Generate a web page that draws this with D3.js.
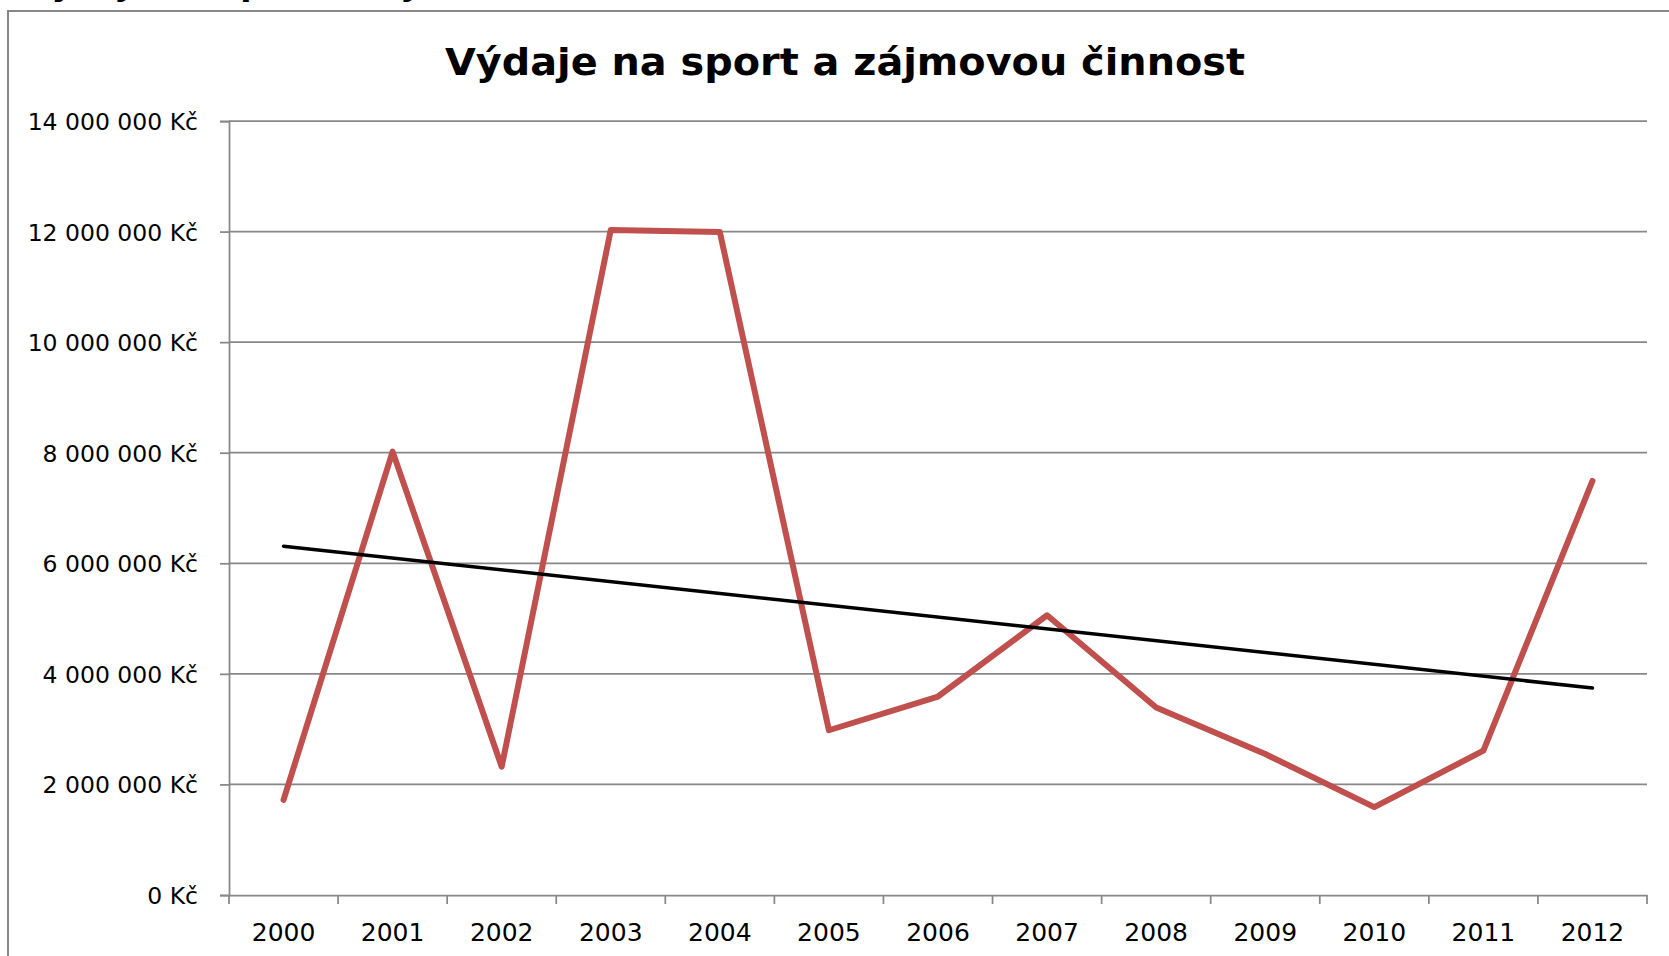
<!DOCTYPE html>
<html>
<head>
<meta charset="utf-8">
<script src="https://cdn.jsdelivr.net/npm/d3@7"></script>
<style>
  html, body { margin: 0; padding: 0; background: #fff; overflow: hidden; }
  svg { display: block; }
</style>
</head>
<body>
<svg id="chart" width="1669" height="956"></svg>
<script>
// ---- data ----
const titleText = "Výdaje na sport a zájmovou činnost";
const years = ["2000","2001","2002","2003","2004","2005","2006","2007","2008","2009","2010","2011","2012"];
const expenses = [1720000, 8020000, 2320000, 12030000, 11990000, 2980000, 3590000, 5060000, 3390000, 2550000, 1590000, 2610000, 7490000];
const yTickValues = [0, 2000000, 4000000, 6000000, 8000000, 10000000, 12000000, 14000000];
const yTickLabels = ["0 Kč","2 000 000 Kč","4 000 000 Kč","6 000 000 Kč","8 000 000 Kč","10 000 000 Kč","12 000 000 Kč","14 000 000 Kč"];

// ---- layout ----
const W = 1669, H = 956;
const plot = { left: 229, right: 1647, top: 121, bottom: 895 };
const FONT = "'DejaVu Sans', 'Noto Sans', sans-serif";
const GRID = "#878787";
const RED = "#C0504D";

const svg = d3.select("#chart");

// clipped heading from page above (only descenders visible)
svg.append("text")
  .attr("x", 26).attr("y", -4)
  .attr("textLength", 661).attr("lengthAdjust", "spacingAndGlyphs")
  .style("font-family", FONT).style("font-weight", "bold").style("font-size", "30px")
  .attr("fill", "#000")
  .text(titleText);

// chart outer border (top and left visible)
svg.append("path")
  .attr("d", `M8,${H} L8,11 L${W},11`)
  .attr("fill", "none").attr("stroke", GRID).attr("stroke-width", 2);

// scales
const x = d3.scaleBand().domain(years).range([plot.left, plot.right]).paddingInner(0).paddingOuter(0);
const y = d3.scaleLinear().domain([0, 14000000]).range([plot.bottom, plot.top]);
const cx = d => x(d) + x.bandwidth() / 2;

// gridlines
svg.append("g").selectAll("line")
  .data(yTickValues.filter(v => v > 0))
  .join("line")
  .attr("x1", plot.left).attr("x2", plot.right)
  .attr("y1", d => y(d)).attr("y2", d => y(d))
  .attr("stroke", GRID).attr("stroke-width", 1.75);

// y axis
const yAxis = d3.axisLeft(y)
  .tickValues(yTickValues)
  .tickSize(9)
  .tickPadding(22)
  .tickFormat((d, i) => yTickLabels[i]);
const gy = svg.append("g").attr("transform", `translate(${plot.left},0)`).call(yAxis);
gy.select(".domain").attr("stroke", GRID).attr("stroke-width", 1.75);
gy.selectAll(".tick line").attr("stroke", GRID).attr("stroke-width", 1.75);
gy.selectAll(".tick text")
  .style("font-family", FONT).style("font-size", "23.5px").attr("fill", "#000")
  .attr("dy", "0.36em");

// x axis (labels at category centers)
const xAxis = d3.axisBottom(x).tickSize(0).tickPadding(0);
const gx = svg.append("g").attr("transform", `translate(0,${plot.bottom})`).call(xAxis);
gx.select(".domain").attr("stroke", GRID).attr("stroke-width", 1.75);
gx.selectAll(".tick text")
  .style("font-family", FONT).style("font-size", "25px").attr("fill", "#000")
  .attr("y", 46).attr("dy", "0");

// x boundary tick marks
const boundaries = years.map(d => x(d)).concat([plot.right]);
svg.append("g").selectAll("line")
  .data(boundaries)
  .join("line")
  .attr("x1", d => d).attr("x2", d => d)
  .attr("y1", plot.bottom).attr("y2", plot.bottom + 9)
  .attr("stroke", GRID).attr("stroke-width", 1.75);

// linear trendline (least squares over the series)
const n = expenses.length;
const idx = d3.range(n);
const mx = d3.mean(idx), my = d3.mean(expenses);
const slope = d3.sum(idx, i => (i - mx) * (expenses[i] - my)) / d3.sum(idx, i => (i - mx) * (i - mx));
const intercept = my - slope * mx;
const trend = [0, n - 1].map(i => ({ year: years[i], value: intercept + slope * i }));

// data line
const line = d3.line().x(d => cx(d.year)).y(d => y(d.value));
svg.append("path")
  .datum(years.map((yr, i) => ({ year: yr, value: expenses[i] })))
  .attr("d", line)
  .attr("fill", "none").attr("stroke", RED).attr("stroke-width", 6)
  .attr("stroke-linejoin", "round").attr("stroke-linecap", "round");

svg.append("path")
  .datum(trend)
  .attr("d", line)
  .attr("fill", "none").attr("stroke", "#000").attr("stroke-width", 3.5)
  .attr("stroke-linecap", "round");

// title
svg.append("text")
  .attr("x", 445).attr("y", 75)
  .attr("textLength", 800).attr("lengthAdjust", "spacingAndGlyphs")
  .style("font-family", FONT).style("font-weight", "bold").style("font-size", "38px")
  .attr("fill", "#000")
  .text(titleText);
</script>
</body>
</html>
